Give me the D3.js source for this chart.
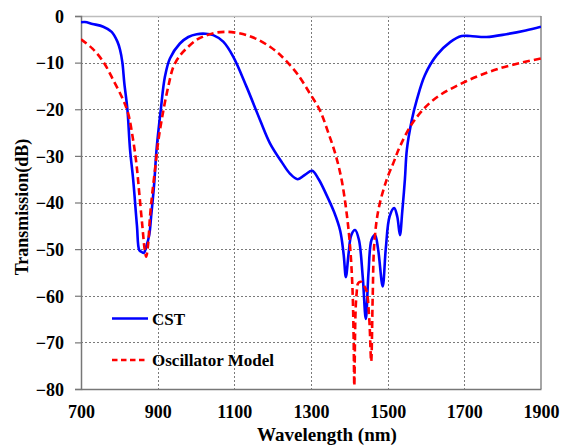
<!DOCTYPE html>
<html><head><meta charset="utf-8">
<script src="https://cdn.jsdelivr.net/npm/d3@7/dist/d3.min.js"></script>
<style>body{margin:0;background:#fff}svg{display:block}</style>
</head><body>
<svg id="c" width="562" height="446"></svg>
<script>
const cstWl = [700,710,730,758,780,795,802,808,813,821,828,836,846,852,858,864,870,878,883,891,897,908,919,932,958,980,1002,1025,1045,1071,1097,1132,1167,1193,1225,1245,1265,1285,1303,1320,1340,1360,1376,1385,1391,1398,1405,1415,1425,1435,1443,1450,1458,1467,1475,1487,1495,1505,1517,1525,1532,1538,1545,1550,1563,1576,1597,1628,1663,1693,1715,1758,1810,1860,1900];
const cstDb = [-1.35,-1.3,-1.7,-2.3,-3.4,-5.5,-7.3,-10,-14.4,-20,-28.7,-35,-45,-50.2,-50.6,-50.8,-49.5,-47,-43,-35.9,-28.7,-20.2,-13,-9.1,-5.9,-4.5,-3.9,-3.8,-4.1,-5.5,-8.7,-15.2,-22.3,-27.3,-31.5,-33.8,-35,-34,-33.2,-35,-38.3,-42,-46,-51,-56,-51,-47,-45.9,-48,-56,-65,-55,-48,-47,-50,-58,-50,-43,-41.2,-43,-47,-42,-35,-28.7,-22.3,-18,-12.7,-8.4,-5.6,-4.3,-4.3,-4.5,-3.9,-3.1,-2.3];
const oscWl = [700,730,758,784,810,823,836,845,852,860,866,870,875,880,886,893,902,915,928,941,958,976,1000,1019,1050,1080,1105,1132,1160,1193,1215,1237,1265,1297,1323,1345,1365,1380,1393,1402,1408,1411,1413,1416,1419,1423,1430,1438,1445,1452,1457,1461,1465,1476,1497,1515,1532,1567,1619,1702,1793,1900];
const oscDb = [-5,-7,-9.8,-13.7,-18,-20.9,-26.6,-32,-38,-45,-50,-51.6,-49,-43,-38,-33,-26.6,-20.2,-15,-10.9,-8.5,-6.9,-5.2,-4.4,-3.6,-3.4,-3.6,-4.1,-5,-6.6,-8,-9.8,-12.5,-16.6,-20.2,-25,-30,-35.2,-42.3,-49.5,-58,-68,-79.3,-64,-59.5,-57.3,-57,-57.8,-59,-65,-74.1,-60,-49,-41.5,-35.2,-31.5,-28,-22.7,-18,-14.1,-11.2,-9.1];
const xTicks = [700,900,1100,1300,1500,1700,1900];
const yTicks = [0,-10,-20,-30,-40,-50,-60,-70,-80];
const seriesNames = ["CST","Oscillator Model"];

const FONT = "'Liberation Serif','Times New Roman','DejaVu Serif',serif";
const svg = d3.select("#c");
const L=81,R=541,T=16,B=389;
const x = d3.scaleLinear().domain([700,1900]).range([L,R]);
const y = d3.scaleLinear().domain([-80,0]).range([B,T]);

// grid
const grid = svg.append("g").attr("class","grid");
grid.selectAll("line.vg").data(xTicks.filter(d=>d>700&&d<1900)).enter().append("line").attr("class","vg")
  .attr("x1",d=>Math.round(x(d))+0.5).attr("x2",d=>Math.round(x(d))+0.5).attr("y1",T).attr("y2",B)
  .style("stroke","#7a7a7a").style("stroke-width","1px").style("stroke-dasharray","2,2").style("shape-rendering","crispEdges");
grid.selectAll("line.hg").data(yTicks.filter(d=>d<0&&d>-80)).enter().append("line").attr("class","hg")
  .attr("x1",L).attr("x2",R).attr("y1",d=>Math.round(y(d))+0.5).attr("y2",d=>Math.round(y(d))+0.5)
  .style("stroke","#7a7a7a").style("stroke-width","1px").style("stroke-dasharray","2,2").style("shape-rendering","crispEdges");

// frame
svg.append("line").attr("x1",L).attr("x2",R).attr("y1",T+0.5).attr("y2",T+0.5).attr("stroke","#bdbdbd").attr("stroke-width",1.5);
svg.append("line").attr("x1",R).attr("x2",R).attr("y1",T).attr("y2",B).attr("stroke","#888").attr("stroke-width",1.5);

// axes
const ya = svg.append("g").attr("transform",`translate(${L},0)`)
  .call(d3.axisLeft(y).tickValues(yTicks).tickSize(6).tickPadding(11).tickFormat(d3.format("d")));
ya.select(".domain").attr("stroke","#777").attr("stroke-width",1.5);
ya.selectAll(".tick line").attr("stroke","#777").attr("stroke-width",1.2);
ya.selectAll("text").style("font-family",FONT).style("font-weight","bold").style("font-size","18px").attr("fill","#000").attr("dy","0.35em");

const xa = svg.append("g").attr("transform",`translate(0,${B})`)
  .call(d3.axisBottom(x).tickValues(xTicks).tickSize(0).tickPadding(16).tickFormat(d3.format("d")));
xa.select(".domain").attr("stroke","#777").attr("stroke-width",1.5);
xa.selectAll("text").style("font-family",FONT).style("font-weight","bold").style("font-size","18px").attr("fill","#000");

// titles
svg.append("text").attr("x",327).attr("y",441).attr("text-anchor","middle")
  .style("font-family",FONT).style("font-weight","bold").style("font-size","19px").text("Wavelength (nm)");
svg.append("text").attr("transform","translate(28,207) rotate(-90)").attr("text-anchor","middle")
  .style("font-family",FONT).style("font-weight","bold").style("font-size","18px").text("Transmission(dB)");

// clip
svg.append("clipPath").attr("id","clip").append("rect").attr("x",L).attr("y",T).attr("width",R-L).attr("height",B-T);

const line = d3.line().x(d=>x(d[0])).y(d=>y(d[1])).curve(d3.curveCatmullRom.alpha(0.5));
const cst = cstWl.map((w,i)=>[w,cstDb[i]]);
const osc = oscWl.map((w,i)=>[w,oscDb[i]]);

const plot = svg.append("g").attr("clip-path","url(#clip)");
plot.append("path").datum(cst).attr("d",line).attr("fill","none").attr("stroke","#0000ff").attr("stroke-width",2.6).attr("stroke-linejoin","round");
plot.append("path").datum(osc).attr("d",line).attr("fill","none").attr("stroke","#ff0000").attr("stroke-width",2.6).attr("stroke-dasharray","7,4");

// legend
const lg = svg.append("g");
lg.append("line").attr("x1",112).attr("x2",148).attr("y1",318.5).attr("y2",318.5).attr("stroke","#0000ff").attr("stroke-width",2.6);
lg.append("line").attr("x1",112).attr("x2",148).attr("y1",360).attr("y2",360).attr("stroke","#ff0000").attr("stroke-width",2.6).attr("stroke-dasharray","5.5,3.5");
lg.append("text").attr("x",152).attr("y",325).style("font-family",FONT).style("font-weight","bold").style("font-size","17px").text(seriesNames[0]);
lg.append("text").attr("x",152).attr("y",366).style("font-family",FONT).style("font-weight","bold").style("font-size","17px").text(seriesNames[1]);
</script>
</body></html>
